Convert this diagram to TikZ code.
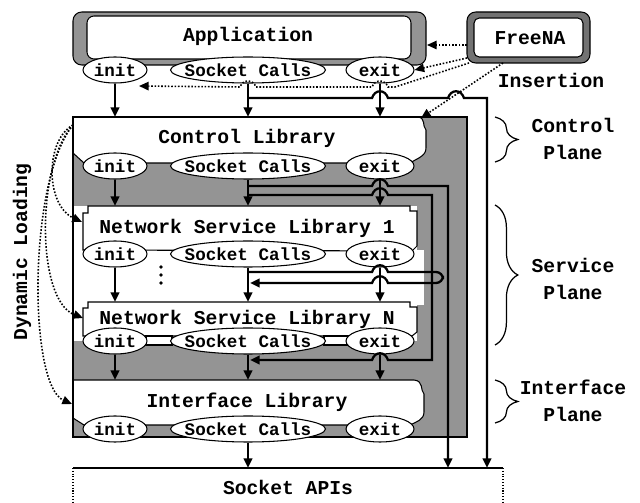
\documentclass[tikz,border=0pt]{standalone}
\usepackage{fontspec}
\setmonofont{Liberation Mono}
\usetikzlibrary{shapes.geometric,arrows.meta,decorations.pathreplacing}
\begin{document}
\begin{tikzpicture}[x=0.02cm,y=-0.02cm,
  >={Triangle[length=5.5pt,width=4.8pt]},
  flow/.style={line width=1.3pt},
  flowarr/.style={flow,->},
  ins/.style={densely dotted,line width=0.9pt,->},
  bord/.style={line width=0.6pt},
  hatch/.style={fill=black!42},
  ell/.style={ellipse,draw,line width=0.6pt,fill=white,inner sep=0pt,
    minimum height=0.52cm,font=\ttfamily\bfseries\fontsize{10}{10}\selectfont},
  ttl/.style={inner sep=0pt,font=\ttfamily\bfseries\fontsize{11.2}{12}\selectfont},
  plane/.style={inner sep=0pt,align=center,font=\ttfamily\bfseries\fontsize{11.2}{15}\selectfont},
  brc/.style={decorate,decoration={brace,amplitude=13pt},line width=0.7pt}]

\useasboundingbox (0,0) rectangle (640,503);
\fill[white] (0,0) rectangle (640,503);

% shaded area behind the three planes
\fill[hatch] (73,117) rectangle (467,437);

% control library
\draw[bord,fill=white] (73,117) -- (418,117) .. controls (426,118) and (422,126) .. (426,130)
  -- (426,148) .. controls (426,156) and (418,158) .. (410,163) -- (84,163) -- (73,153) -- cycle;

% service plane
\fill[white] (73,206) rectangle (417,341);
\fill[white] (417,250) rectangle (424,305);
\draw[bord,fill=white] (83,250) -- (83,213) -- (88,213) -- (88,206) -- (410,206) -- (410,211)
  -- (417,211) -- (417,246) -- (412,251) -- cycle;
\draw[bord,fill=white] (83,336) -- (83,308) -- (88,308) -- (88,302) -- (410,302) -- (410,307)
  -- (417,307) -- (417,332) -- (412,336) -- cycle;
\draw[bord,fill=white] (146,336) rectangle (172,345);
\draw[bord,fill=white] (324,336) rectangle (348,345);

% interface library
\draw[bord,fill=white] (73,380) -- (414,380) .. controls (424,381) and (420,390) .. (424,394)
  -- (424,412) .. controls (424,420) and (416,422) .. (410,425) -- (84,425) -- (73,418) -- cycle;

\draw[bord] (73,117) rectangle (467,437);

% application and FreeNA
\draw[bord,hatch,rounded corners=5pt] (73,12) rectangle (426,65);
\draw[bord,fill=white,rounded corners=4pt] (87,16) rectangle (411,59);
\draw[bord,fill=black!55,rounded corners=5pt] (467,12) rectangle (590,63);
\draw[bord,fill=white,rounded corners=3pt] (474,18) rectangle (583,57);

% socket APIs
\draw[line width=0.8pt] (73,468) -- (503,468);
\draw[bord,densely dotted] (73,468) -- (73,505) (503,468) -- (503,505);

% titles
\node[ttl] (app) at (248,36) {Application};
\node[ttl] (fna) at (530,38) {FreeNA};
\node[ttl] (ins) at (551,80) {Insertion};
\node[ttl] (ctl) at (247,138) {Control Library};
\node[ttl] (ns1) at (247,228) {Network Service Library 1};
\node[ttl] (nsN) at (247,319) {Network Service Library N};
\node[ttl] (ifl) at (247,402) {Interface Library};
\node[ttl] (api) at (288,487) {Socket APIs};
\node[ttl,rotate=90] (dyn) at (22,252) {Dynamic Loading};

% further service libraries
\fill (161,267) circle (1.1pt) (161,275) circle (1.1pt) (161,283) circle (1.1pt);

% entry points
\node[ell,minimum width=1.28cm] (ai) at (115,70) {\makebox[0pt]{init}};
\node[ell,minimum width=3.1cm] (as) at (248,70) {\makebox[0pt]{Socket Calls}};
\node[ell,minimum width=1.36cm] (ae) at (380,70) {\makebox[0pt]{exit}};
\node[ell,minimum width=1.28cm] (ci) at (115,166) {\makebox[0pt]{init}};
\node[ell,minimum width=3.1cm] (cs) at (248,166) {\makebox[0pt]{Socket Calls}};
\node[ell,minimum width=1.36cm] (ce) at (380,166) {\makebox[0pt]{exit}};
\node[ell,minimum width=1.28cm] (n1i) at (115,254) {\makebox[0pt]{init}};
\node[ell,minimum width=3.1cm] (n1s) at (248,254) {\makebox[0pt]{Socket Calls}};
\node[ell,minimum width=1.36cm] (n1e) at (380,254) {\makebox[0pt]{exit}};
\node[ell,minimum width=1.28cm] (nNi) at (115,341) {\makebox[0pt]{init}};
\node[ell,minimum width=3.1cm] (nNs) at (248,341) {\makebox[0pt]{Socket Calls}};
\node[ell,minimum width=1.36cm] (nNe) at (380,341) {\makebox[0pt]{exit}};
\node[ell,minimum width=1.28cm] (fi) at (115,429) {\makebox[0pt]{init}};
\node[ell,minimum width=3.1cm] (fs) at (248,429) {\makebox[0pt]{Socket Calls}};
\node[ell,minimum width=1.36cm] (fe) at (380,429) {\makebox[0pt]{exit}};

% tops of the boxes below
\coordinate (ctop) at (0,117);
\coordinate (n1top) at (0,206);
\coordinate (nNtop) at (0,302);
\coordinate (iftop) at (0,380);
\coordinate (apitop) at (0,468);

% calls passed down
\draw[flowarr] (ai.south) -- (ai.south |- ctop);
\draw[flowarr] (as.south) -- (as.south |- ctop);
\draw[flowarr] (ae.south) -- (ae.south |- ctop);
\draw[flowarr] (ci.south) -- (ci.south |- n1top);
\draw[flowarr] (cs.south) -- (cs.south |- n1top);
\draw[flowarr] (ce.south) -- (ce.south |- n1top);
\draw[flowarr] (n1i.south) -- (n1i.south |- nNtop);
\draw[flowarr] (n1s.south) -- (n1s.south |- nNtop);
\draw[flowarr] (n1e.south) -- (n1e.south |- nNtop);
\draw[flowarr] (nNi.south) -- (nNi.south |- iftop);
\draw[flowarr] (nNs.south) -- (nNs.south |- iftop);
\draw[flowarr] (nNe.south) -- (nNe.south |- iftop);
\draw[flowarr] (fs.south) -- (fs.south |- apitop);

% bypass routes
\coordinate (b0) at (248,98);  \coordinate (b0end) at (487,468);
\coordinate (b1) at (248,186); \coordinate (b1end) at (448,468);
\coordinate (b2) at (248,195); \coordinate (b2end) at (250,360);
\coordinate (b3) at (248,272); \coordinate (b3end) at (250,283);
\draw[flowarr] (b0) -- (372,98) .. controls (375,89) and (385,89) .. (388,98) -- (448,98)
  .. controls (451,89) and (461,89) .. (464,98) -- (487,98) -- (b0end);
\draw[flowarr] (b1) -- (372,186) .. controls (375,177) and (385,177) .. (388,186) -- (448,186) -- (b1end);
\draw[flowarr] (b2) -- (372,195) .. controls (375,186) and (385,186) .. (388,195) -- (432,195) -- (432,360)
  -- (388,360) .. controls (385,351) and (375,351) .. (372,360) -- (b2end);
\draw[flowarr] (b3) -- (372,272) .. controls (375,263) and (385,263) .. (388,272)
  [rounded corners=4pt] -- (443,272) -- (443,283) [sharp corners] -- (388,283)
  .. controls (385,274) and (375,274) .. (372,283) -- (b3end);

% FreeNA insertion
\coordinate (fnw) at (467,45); \coordinate (appe) at (427,45);
\coordinate (fnc) at (467,58);
\coordinate (fnb) at (469,63); \coordinate (fin) at (139,86);
\coordinate (fnd) at (503,63); \coordinate (ccorner) at (421,118);
\draw[ins] (fnw) -- (appe);
\draw[ins] (fnc) -- (ae.east);
\draw[ins] (fnb) -- (395,87) -- (388,87) .. controls (385,79) and (375,79) .. (372,87)
  -- (256,87) .. controls (253,79) and (243,79) .. (240,87) -- (fin);
\draw[ins] (fnd) -- (ccorner);

% dynamic loading
\coordinate (dl) at (73,125);
\coordinate (dl1) at (82,222); \coordinate (dl2) at (83,318); \coordinate (dl3) at (72,404);
\draw[ins] (dl) .. controls (45,140) and (45,205) .. (dl1);
\draw[ins] (dl) .. controls (36,165) and (36,300) .. (dl2);
\draw[ins] (dl) .. controls (28,180) and (28,385) .. (dl3);

% planes
\draw[brc] (495,117) -- (495,162);
\draw[brc] (495,205) -- (495,345);
\draw[brc] (495,380) -- (495,423);
\node[plane] (cpl) at (573,139) {Control\\Plane};
\node[plane] (spl) at (573,279) {Service\\Plane};
\node[plane] (ipl) at (573,401) {Interface\\Plane};
\end{tikzpicture}
\end{document}
